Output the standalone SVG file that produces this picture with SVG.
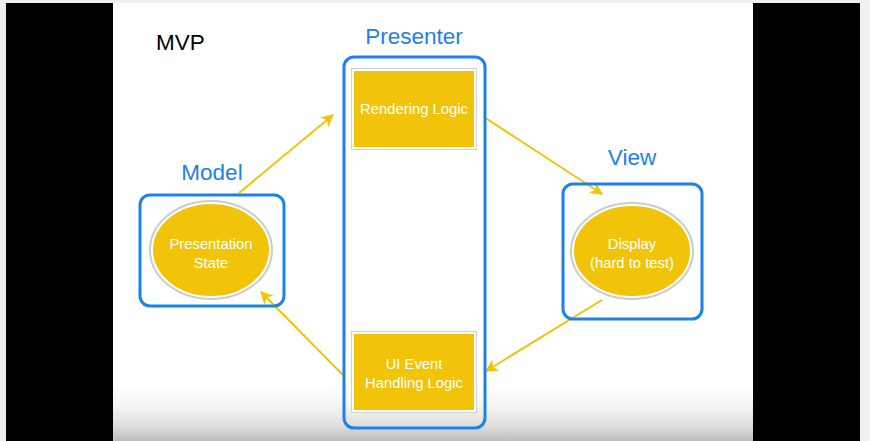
<svg xmlns="http://www.w3.org/2000/svg" width="870" height="441" viewBox="0 0 870 441">
  <style>
    .frame { fill: none; stroke: #1c82e8; stroke-width: 3; }
    .title { font-family: "Liberation Sans", Arial, sans-serif; font-size: 22.5px; fill: #1c82e8; text-anchor: middle; }
    .inner { font-family: "Liberation Sans", Arial, sans-serif; font-size: 14.8px; fill: #ffffff; text-anchor: middle; }
    .shape { fill: #f1c40a; stroke: #ffffff; stroke-width: 2; }
    .halo { fill: none; stroke: #cccccc; stroke-width: 4; }
    .link { stroke: #f1c40a; stroke-width: 2; fill: none; marker-end: url(#tip); }
  </style>
  <defs>
    <marker id="tip" viewBox="0 0 10 10" refX="9" refY="5" markerWidth="6.5" markerHeight="6.5" orient="auto" markerUnits="strokeWidth">
      <path d="M0,0 L10,5 L0,10 L3,5 z" fill="#f1c40a"/>
    </marker>
    <linearGradient id="floor" x1="0" y1="0" x2="0" y2="1">
      <stop offset="0" stop-color="#ffffff"/>
      <stop offset="0.35" stop-color="#f6f6f6"/>
      <stop offset="0.75" stop-color="#dcdcdc"/>
      <stop offset="1" stop-color="#bcbcbc"/>
    </linearGradient>
  </defs>

  <!-- backdrop and side bands -->
  <rect x="0" y="0" width="870" height="441" fill="#f0f0f0"/>
  <rect x="6" y="3" width="107" height="438" fill="#000000"/>
  <rect x="753" y="3" width="107" height="438" fill="#000000"/>
  <rect x="113" y="3" width="640" height="438" fill="#ffffff"/>
  <rect x="113" y="385" width="640" height="56" fill="url(#floor)"/>

  <text x="156" y="50" font-family="Liberation Sans, Arial, sans-serif" font-size="22.5" fill="#000000">MVP</text>

  <!-- connectors -->
  <g id="connectors">
    <line class="link" x1="239" y1="193" x2="333" y2="115"/>
    <line class="link" x1="484" y1="117" x2="602" y2="194"/>
    <line class="link" x1="602" y1="300" x2="486" y2="371"/>
    <line class="link" x1="343" y1="375" x2="261" y2="292"/>
  </g>

  <!-- Model -->
  <g id="model">
    <text class="title" x="212" y="180">Model</text>
    <rect class="frame" x="140" y="195" width="144" height="111" rx="10"/>
    <ellipse class="halo" cx="211" cy="250" rx="60" ry="48"/>
    <ellipse class="shape" cx="211" cy="250" rx="59" ry="47"/>
    <text class="inner" x="211" y="249">Presentation</text>
    <text class="inner" x="211" y="268">State</text>
  </g>

  <!-- Presenter -->
  <g id="presenter">
    <text class="title" x="414" y="44">Presenter</text>
    <rect class="frame" x="344" y="57" width="141" height="371" rx="10"/>
  </g>

  <g id="rendering-logic">
    <rect x="352" y="69" width="124" height="80" fill="none" stroke="#d0d0d0" stroke-width="2"/>
    <rect class="shape" x="353" y="70" width="122" height="78"/>
    <text class="inner" x="414" y="114">Rendering Logic</text>
  </g>

  <g id="ui-event-handling">
    <rect x="352" y="332" width="124" height="80" fill="none" stroke="#d0d0d0" stroke-width="2"/>
    <rect class="shape" x="353" y="333" width="122" height="78"/>
    <text class="inner" x="414" y="369">UI Event</text>
    <text class="inner" x="414" y="388">Handling Logic</text>
  </g>

  <!-- View -->
  <g id="view">
    <text class="title" x="632" y="165">View</text>
    <rect class="frame" x="563" y="184" width="139" height="135" rx="10"/>
    <ellipse class="halo" cx="632" cy="251" rx="60" ry="47"/>
    <ellipse class="shape" cx="632" cy="251" rx="59" ry="46"/>
    <text class="inner" x="632" y="249">Display</text>
    <text class="inner" x="632" y="268">(hard to test)</text>
  </g>
</svg>
